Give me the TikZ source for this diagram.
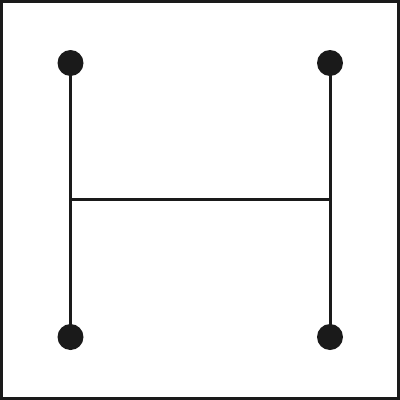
\documentclass[tikz,border=0pt]{standalone}
\definecolor{ink}{HTML}{1A1A1A}
\tikzset{
  dot/.style={circle,fill=ink,minimum size=26pt,inner sep=0pt},
  bar/.style={draw=ink,line width=3pt},
  frame/.style={draw=ink,line width=3pt}
}
\begin{document}
\begin{tikzpicture}[x=1pt,y=-1pt]
\useasboundingbox (0,0) rectangle (400,400);
\draw[frame] (1.5,1.5) rectangle (398.5,398.5);
\node[dot] (tl) at (70.5,63) {};
\node[dot] (tr) at (330,63) {};
\node[dot] (bl) at (70.5,337) {};
\node[dot] (br) at (330,337) {};
\coordinate (ml) at (70.5,199.5);
\coordinate (mr) at (330,199.5);
\draw[bar] (tl.center) -- (bl.center);
\draw[bar] (tr.center) -- (br.center);
\draw[bar] (ml) -- (mr);
\end{tikzpicture}
\end{document}
